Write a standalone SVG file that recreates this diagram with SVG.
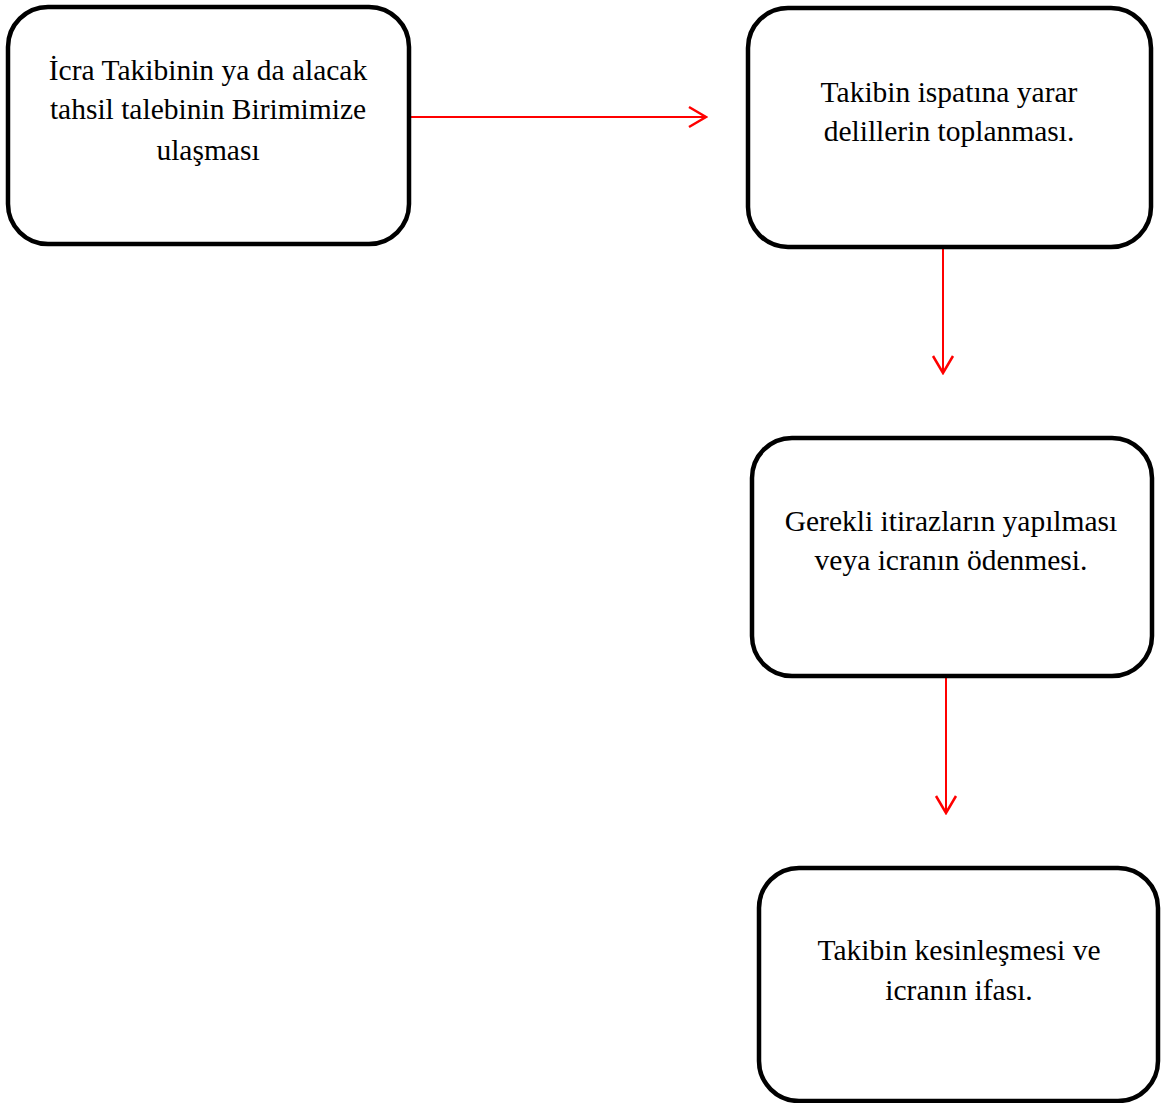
<svg xmlns="http://www.w3.org/2000/svg" width="1162" height="1103" viewBox="0 0 1162 1103">
<style>
.box{fill:#fff;stroke:#000;stroke-width:4.5}
.t{font-family:"Liberation Serif","Times New Roman",serif;font-size:29.5px;fill:#000;text-anchor:middle}
.c{stroke:#ff0000;stroke-width:2;fill:none}
</style>
<defs>
<marker id="ah" markerWidth="20" markerHeight="24" refX="18" refY="12" orient="auto" markerUnits="userSpaceOnUse">
<path d="M1,2 L18,12 L1,22" fill="none" stroke="#ff0000" stroke-width="2.5"/>
</marker>
</defs>
<rect width="1162" height="1103" fill="#fff"/>
<g id="connectors">
<line class="c" x1="411" y1="117" x2="706" y2="117" marker-end="url(#ah)"/>
<line class="c" x1="943" y1="249" x2="943" y2="373" marker-end="url(#ah)"/>
<line class="c" x1="946" y1="678" x2="946" y2="813" marker-end="url(#ah)"/>
</g>
<g id="n1">
<rect class="box" x="8" y="7" width="401" height="237" rx="40"/>
<text class="t" x="208" y="80">İcra Takibinin ya da alacak</text>
<text class="t" x="208" y="119">tahsil talebinin Birimimize</text>
<text class="t" x="208" y="160">ulaşması</text>
</g>
<g id="n2">
<rect class="box" x="748" y="8" width="403" height="239" rx="40"/>
<text class="t" x="949" y="102">Takibin ispatına yarar</text>
<text class="t" x="949" y="141">delillerin toplanması.</text>
</g>
<g id="n3">
<rect class="box" x="752" y="438" width="400" height="238" rx="40"/>
<text class="t" x="951" y="531">Gerekli itirazların yapılması</text>
<text class="t" x="951" y="570">veya icranın ödenmesi.</text>
</g>
<g id="n4">
<rect class="box" x="759" y="868" width="399" height="233" rx="40"/>
<text class="t" x="959" y="960">Takibin kesinleşmesi ve</text>
<text class="t" x="959" y="1000">icranın ifası.</text>
</g>
</svg>
